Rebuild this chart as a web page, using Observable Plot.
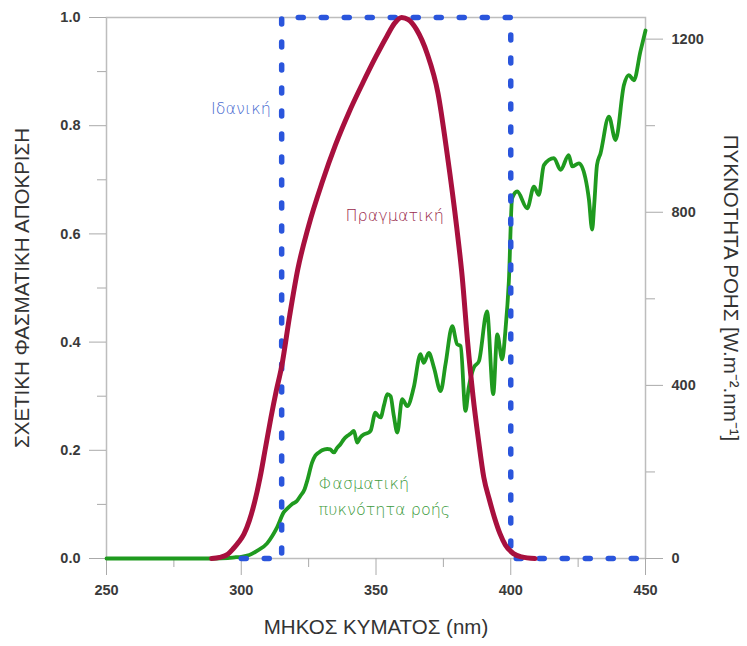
<!DOCTYPE html>
<html>
<head>
<meta charset="utf-8">
<script src="https://cdn.jsdelivr.net/npm/d3@7"></script>
<script src="https://cdn.jsdelivr.net/npm/@observablehq/plot@0.6"></script>
<style>
  html, body { margin: 0; padding: 0; background: #fff; }
  #chart { width: 747px; height: 646px; }
</style>
</head>
<body>
<div id="chart"></div>
<script>
// ---- Data ----
const greenNm = [250, 260, 270, 280, 290, 295, 298, 300, 303, 306, 309.6, 311.5, 313.3, 315.8, 317, 318.9, 320.5, 322, 323.5, 324.5, 326.3, 327.5, 328.8, 330, 331.9, 333, 334.4, 335.5, 336.8, 338, 339.3, 340.5, 341.8, 343, 344.2, 345.5, 347, 348, 349.8, 350.7, 351.7, 353, 354.2, 355.4, 356.6, 357.9, 359.7, 361.6, 364, 366.5, 367.7, 369.6, 371.5, 374, 375.8, 378.3, 380.1, 381.4, 383.2, 384.4, 386.3, 388.2, 391.2, 393.5, 395, 396.8, 398, 399.3, 400.5, 402.4, 406.1, 408.6, 410.4, 412.3, 416, 418.5, 421.5, 422.8, 425.3, 427.7, 429, 430.2, 431, 432, 433.3, 436.4, 438.9, 442, 443.8, 445.7, 448.1, 450];
const greenFlux = [0, 0, 0, 0, 0, 1, 3, 4, 8, 18, 35, 52, 72, 107, 115, 126, 132, 145, 160, 180, 222, 238, 245, 250, 253, 252, 245, 255, 264, 275, 283, 288, 295, 268, 280, 287, 290, 295, 337, 330, 326, 355, 380, 375, 330, 291, 368, 352, 395, 472, 452, 475, 441, 387, 449, 537, 495, 491, 341, 395, 441, 456, 571, 380, 518, 460, 525, 641, 832, 848, 809, 859, 840, 909, 925, 898, 932, 906, 913, 879, 830, 760, 820, 909, 936, 1021, 967, 1094, 1117, 1105, 1171, 1220];

const redNm = [289, 292, 295, 297, 299, 301, 303, 305, 307, 309, 311, 313, 315, 318, 321, 325, 330, 335, 340, 345, 350, 354, 357, 359.5, 362, 365, 369, 373, 376.4, 380, 382, 384, 386, 388, 390, 392, 394, 396, 398, 401, 404, 409];
const redResp = [0, 0.002, 0.008, 0.018, 0.03, 0.045, 0.07, 0.105, 0.15, 0.205, 0.26, 0.31, 0.355, 0.45, 0.535, 0.615, 0.695, 0.765, 0.825, 0.878, 0.928, 0.965, 0.99, 1.0, 0.996, 0.978, 0.933, 0.86, 0.748, 0.61, 0.52, 0.40, 0.30, 0.22, 0.15, 0.11, 0.075, 0.046, 0.025, 0.009, 0.003, 0];

const blueNm = [300, 315, 315, 400, 400, 450];
const blueResp = [0, 0, 1, 1, 0, 0];

const leftMajorTicks = [0, 0.2, 0.4, 0.6, 0.8, 1.0];
const leftMinorTicks = [0.1, 0.3, 0.5, 0.7, 0.9];
const rightMajorTicks = [0, 400, 800, 1200];
const rightMinorTicks = [200, 600, 1000];
const rightMax = 1250;
const xMajorTicks = [250, 300, 350, 400, 450];
const xMinorTicks = [275, 325, 375, 425];

const xTitle = "ΜΗΚΟΣ ΚΥΜΑΤΟΣ (nm)";
const leftTitle = "ΣΧΕΤΙΚΗ ΦΑΣΜΑΤΙΚΗ ΑΠΟΚΡΙΣΗ";
const rightTitle = "ΠΥΚΝΟΤΗΤΑ ΡΟΗΣ [W.m⁻².nm⁻¹]";

const annotText = ["Ιδανική", "Πραγματική", "Φασματική\nπυκνότητα ροής"];
const annotX = [311, 338.7, 328.7];
const annotY = [0.832, 0.634, 0.12];

// ---- Build ----
const green = greenNm.map((x, i) => ({x, y: greenFlux[i] / rightMax}));
const red = redNm.map((x, i) => ({x, y: redResp[i]}));
const blue = blueNm.map((x, i) => ({x, y: blueResp[i]}));

const tickStroke = "#aaa";
const tickFill = "#3a3a3a";
const tickFont = {fontSize: 14.5, fontWeight: "bold", fontFamily: "Liberation Sans, Arial, sans-serif"};
const annFont = "'DejaVu Sans', sans-serif";
const titleFont = {fontSize: 20.5, fill: "#333", textAnchor: "middle", fontFamily: "Liberation Sans, Arial, sans-serif"};

const chart = Plot.plot({
  width: 747,
  height: 646,
  marginLeft: 106,
  marginRight: 102,
  marginTop: 17,
  marginBottom: 88,
  style: {fontFamily: "Liberation Sans, Arial, sans-serif", background: "#fff", overflow: "visible"},
  x: {domain: [250, 450]},
  y: {domain: [0, 1]},
  marks: [
    Plot.frame({stroke: "#bdbdbd", strokeWidth: 1.5}),
    Plot.axisY(leftMajorTicks, {anchor: "left", tickSize: 17, tickPadding: 9, tickFormat: d => d.toFixed(1), label: null, stroke: tickStroke, fill: tickFill, ...tickFont}),
    Plot.axisY(leftMinorTicks, {anchor: "left", tickSize: 9, tickFormat: () => "", label: null, stroke: tickStroke}),
    Plot.axisY(rightMajorTicks.map(v => v / rightMax), {anchor: "right", tickSize: 17, tickPadding: 9, tickFormat: d => String(Math.round(d * rightMax)), label: null, stroke: tickStroke, fill: tickFill, ...tickFont}),
    Plot.axisY(rightMinorTicks.map(v => v / rightMax), {anchor: "right", tickSize: 9, tickFormat: () => "", label: null, stroke: tickStroke}),
    Plot.axisX(xMajorTicks, {anchor: "bottom", tickSize: 17, tickPadding: 9, tickFormat: d => String(d), label: null, stroke: tickStroke, fill: tickFill, ...tickFont}),
    Plot.axisX(xMinorTicks, {anchor: "bottom", tickSize: 9, tickFormat: () => "", label: null, stroke: tickStroke}),
    Plot.line(green, {x: "x", y: "y", stroke: "#1f9a1f", strokeWidth: 3.8, curve: "monotone-x", strokeLinejoin: "round"}),
    Plot.line(blue, {x: "x", y: "y", stroke: "#2a55dc", strokeWidth: 5.5, strokeDasharray: "5,18", strokeLinecap: "round", strokeLinejoin: "round"}),
    Plot.line(red, {x: "x", y: "y", stroke: "#a8103e", strokeWidth: 5, curve: "monotone-x"}),
    Plot.text([0], {x: () => annotX[0], y: () => annotY[0], text: () => annotText[0], textAnchor: "end", fill: "#4a6bd0", fontSize: 16, fontFamily: annFont, fontWeight: 200}),
    Plot.text([1], {x: () => annotX[1], y: () => annotY[1], text: () => annotText[1], textAnchor: "start", fill: "#9a2a4c", fontSize: 16, fontFamily: annFont, fontWeight: 200}),
    Plot.text([2], {x: () => annotX[2], y: () => annotY[2], text: () => annotText[2], textAnchor: "start", lineHeight: 1.65, fill: "#3c9a3c", fontSize: 16, fontFamily: annFont, fontWeight: 200}),
    Plot.text([xTitle], {frameAnchor: "bottom", dy: 75, ...titleFont}),
    Plot.text([leftTitle], {frameAnchor: "left", dx: -84, rotate: -90, ...titleFont}),
    Plot.text([rightTitle], {frameAnchor: "right", dx: 85, rotate: 90, ...titleFont})
  ]
});
document.getElementById("chart").appendChild(chart);
</script>
</body>
</html>
